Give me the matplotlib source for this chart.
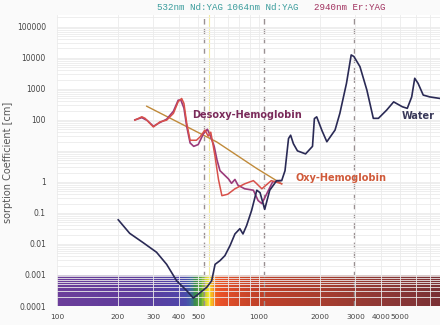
import numpy as np
import matplotlib
matplotlib.use("Agg")
import matplotlib.pyplot as plt
from matplotlib.colors import LinearSegmentedColormap
from matplotlib.ticker import FixedLocator, NullFormatter

# Water absorption (wavelength nm, coefficient 1/cm)
water_wl = [201, 229, 267, 311, 349, 391, 439, 473, 511, 551, 583, 606, 641, 678,
            719, 760, 804, 833, 868, 919, 975, 1012, 1067, 1130, 1223, 1295, 1345,
            1400, 1434, 1480, 1550, 1700, 1840, 1880, 1930, 2050, 2167, 2379, 2513,
            2710, 2860, 2950, 3160, 3420, 3680, 3900, 4280, 4640, 5120, 5420, 5700,
            5900, 6130, 6500, 7000, 7870]
water_val = [0.06, 0.022, 0.011, 0.0054, 0.0022, 0.00065, 0.00031, 0.00018, 0.00027,
             0.0004, 0.00065, 0.0022, 0.0029, 0.0042, 0.0089, 0.021, 0.031, 0.021,
             0.039, 0.12, 0.54, 0.45, 0.13, 0.54, 1.1, 1.1, 2.3, 25, 32, 17, 10, 8,
             14, 110, 125, 45, 19.7, 47, 162, 1500, 12400, 11000, 5200, 910, 112,
             112, 205, 380, 265, 235, 550, 2190, 1500, 630, 550, 490]

# Desoxy-hemoglobin
deoxy_wl = [243, 263, 280, 300, 323, 349, 377, 398, 410, 425, 439, 456, 475, 500,
            530, 555, 575, 600, 620, 641, 706, 731, 760, 787, 850, 938, 990, 1033,
            1093, 1168, 1270]
deoxy_val = [100, 118, 95, 62, 82, 105, 190, 430, 440, 240, 60, 18, 14, 16, 35, 50,
             30, 14, 5, 2.3, 1.25, 0.9, 1.2, 0.78, 0.6, 0.54, 0.25, 0.2, 0.42, 1.0, 1.1]

# Oxy-hemoglobin
oxy_wl = [243, 263, 273, 300, 323, 349, 377, 398, 414, 425, 439, 456, 490, 510, 540,
          560, 577, 590, 605, 630, 655, 700, 760, 850, 938, 975, 1033, 1150, 1295]
oxy_val = [98, 126, 112, 59, 86, 98, 162, 384, 490, 340, 76, 22, 22, 28, 47, 30,
           40, 18, 7, 1.2, 0.36, 0.4, 0.6, 0.87, 1.1, 0.87, 0.6, 1.1, 0.87]

# Third (melanin-like) trend line
trend_wl = [278, 617, 975, 1295]
trend_val = [275, 19.5, 2.7, 0.87]

# Laser lines
laser_wl = [532, 1064, 2940]
laser_names = ["532nm Nd:YAG", "1064nm Nd:YAG", "2940nm Er:YAG"]
laser_colors = ["#3a9c9c", "#3a9c9c", "#a0305e"]

xtick_vals = [100, 200, 300, 400, 500, 1000, 2000, 3000, 4000, 5000]
ytick_vals = [1e-4, 1e-3, 1e-2, 1e-1, 1, 100, 1000, 10000, 100000]
ytick_labels = ["0.0001", "0.001", "0.01", "0.1", "1", "100", "1000", "10000", "100000"]

# spectrum colour stops (wavelength, colour)
spec_wl = [100, 250, 400, 435, 462, 482, 515, 545, 565, 588, 608, 650, 800, 1000,
           2000, 3000, 5000, 7870]
spec_col = ["#6b3d9a", "#5e3c9c", "#5045a8", "#4a4cac", "#3f6aa0", "#3a8a50",
            "#5aa838", "#d8d830", "#f5e828", "#f8a820", "#f06020", "#e85028",
            "#d04828", "#c04029", "#a83d2e", "#983a32", "#883636", "#7a3035"]


def main():
    fig = plt.figure(figsize=(4.4, 3.25), dpi=100)
    fig.patch.set_facecolor("#fafafa")
    ax = fig.add_axes([57 / 440, 19 / 325, 383 / 440, 291 / 325])
    ax.set_facecolor("white")
    ax.set_xscale("log")
    ax.set_yscale("log")
    xmin, xmax = 100, 7870
    ax.set_xlim(xmin, xmax)
    ax.set_ylim(1e-4, 2.4e5)

    # spectrum band
    lo, hi = np.log10(xmin), np.log10(xmax)
    pos = [(np.log10(w) - lo) / (hi - lo) for w in spec_wl]
    cmap = LinearSegmentedColormap.from_list("spec", list(zip(pos, spec_col)))
    xe = np.logspace(lo, hi, 500)
    xc = np.log10(np.sqrt(xe[:-1] * xe[1:]))
    C = ((xc - lo) / (hi - lo))[None, :]
    ax.pcolormesh(xe, [1e-4, 1e-3], C, cmap=cmap, vmin=0, vmax=1, zorder=1,
                  shading="flat", rasterized=True)

    # grid
    minor = [m * 10 ** e for e in range(2, 4) for m in range(1, 10)]
    ax.xaxis.set_minor_locator(FixedLocator(minor))
    ax.yaxis.set_minor_locator(FixedLocator([m * 10.0 ** e for e in range(-4, 6)
                                             for m in range(1, 10)]))
    ax.xaxis.set_minor_formatter(NullFormatter())
    ax.yaxis.set_minor_formatter(NullFormatter())
    ax.grid(True, which="both", color="#ebebeb", lw=0.6)
    ax.set_axisbelow(False)
    for g in ax.get_xgridlines() + ax.get_ygridlines():
        g.set_zorder(1.5)

    ax.set_xticks(xtick_vals)
    ax.set_xticklabels([str(v) for v in xtick_vals])
    ax.set_yticks(ytick_vals)
    ax.set_yticklabels(ytick_labels)
    ax.tick_params(which="both", length=0, colors="#444444")
    ax.tick_params(axis="y", labelsize=5.5, pad=8)
    ax.tick_params(axis="x", labelsize=5.3, pad=6)
    for s in ax.spines.values():
        s.set_visible(False)

    # laser lines
    ax.axvline(565, color="#f2eaa0", lw=0.8, zorder=1.6)
    for w in laser_wl:
        ax.axvline(w, color="#9a9092", lw=1.0, dashes=(4, 3), zorder=2)

    ax.plot(trend_wl, trend_val, color="#c08a3a", lw=1.0, zorder=3)
    ax.plot(deoxy_wl, deoxy_val, color="#9a3a7a", lw=1.2, zorder=3)
    ax.plot(oxy_wl, oxy_val, color="#d8504a", lw=1.1, zorder=3)
    ax.plot(water_wl, water_val, color="#2a2a55", lw=1.2, zorder=4)

    ax.text(466, 142, "Desoxy-Hemoglobin", color="#7a2a5a", fontsize=7,
            fontweight="bold", ha="left", va="center", zorder=5)
    ax.text(1510, 1.3, "Oxy-Hemoglobin", color="#d05a3a", fontsize=7,
            fontweight="bold", ha="left", va="center", zorder=5)
    ax.text(5060, 132, "Water", color="#3a3a5a", fontsize=7,
            fontweight="bold", ha="left", va="center", zorder=5)

    label_px = [157, 227, 314]
    for px, name, col in zip(label_px, laser_names, laser_colors):
        fig.text(px / 440, 1 - 8 / 325, name, color=col, fontsize=6.6,
                 family="Liberation Mono", ha="left", va="center")

    fig.text(8 / 440, 1 - 162 / 325, "sorption Coefficient [cm]", rotation=90,
             color="#555555", fontsize=7, ha="center", va="center")

    fig.savefig("out.png", dpi=100, facecolor=fig.get_facecolor())


if __name__ == "__main__":
    main()
